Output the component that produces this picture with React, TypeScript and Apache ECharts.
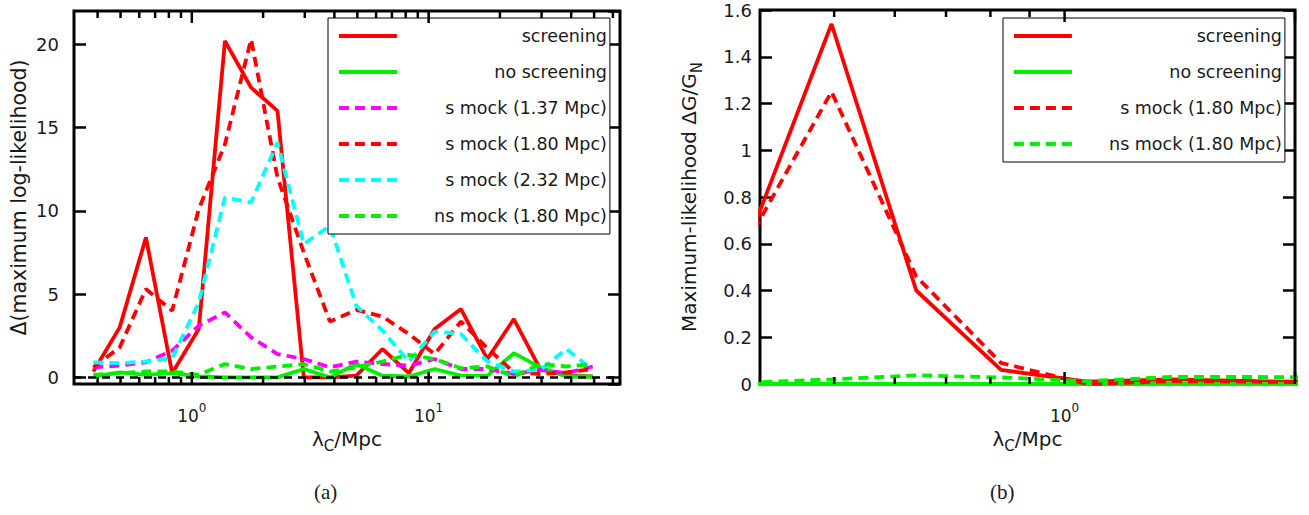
import React, { useEffect, useRef } from 'react';
import * as echarts from 'echarts';

// λ_C grid (Mpc)
const lambdaA = [0.384, 0.496, 0.64, 0.826, 1.07, 1.38, 1.78, 2.3, 2.97, 3.83, 4.95, 6.39, 8.25, 10.6, 13.7, 17.7, 22.9, 29.6, 38.2, 49.3];
// panel (a): Δ(maximum log-likelihood)
const screeningA = [0.35, 3.0, 8.4, 0.25, 2.9, 20.2, 17.4, 16.0, 0.0, 0.0, 0.1, 1.7, 0.25, 2.9, 4.1, 1.1, 3.5, 0.5, 0.1, 0.05];
const noScreeningA = [0.05, 0.3, 0.15, 0.25, 0.05, 0.0, 0.0, 0.0, 0.5, 0.0, 0.8, 0.1, 0.05, 0.5, 0.1, 0.1, 1.45, 0.6, 0.05, 0.05];
const sMock137A = [0.6, 0.7, 0.9, 1.6, 3.1, 3.9, 2.4, 1.4, 1.1, 0.6, 0.95, 0.8, 0.7, 1.1, 0.5, 0.5, 0.2, 0.45, 0.25, 0.65];
const sMock180A = [0.6, 1.8, 5.3, 4.0, 10.1, 14.0, 20.3, 12.0, 7.5, 3.35, 4.05, 3.65, 2.6, 1.4, 3.35, 1.75, 0.3, 0.2, 0.3, 0.5];
const sMock232A = [0.9, 0.85, 0.95, 1.15, 4.5, 10.8, 10.5, 14.1, 8.0, 9.1, 4.3, 2.8, 0.95, 2.75, 2.6, 0.95, 0.35, 0.45, 1.7, 0.45];
const nsMock180A = [0.15, 0.25, 0.35, 0.35, 0.15, 0.8, 0.5, 0.65, 0.8, 0.35, 0.6, 0.95, 1.35, 1.1, 0.55, 0.65, 0.05, 0.8, 0.65, 0.8];

// panel (b): maximum-likelihood ΔG/G_N
const lambdaB = [0.384, 0.496, 0.64, 0.826, 1.07, 1.38, 1.78, 2.3];
const screeningB = [0.59, 1.54, 0.4, 0.06, 0.01, 0.02, 0.012, 0.008];
const noScreeningB = [0, 0, 0, 0, 0, 0, 0, 0];
const sMock180B = [0.6, 1.25, 0.46, 0.09, 0.0, 0.012, 0.01, 0.005];
const nsMock180B = [0.005, 0.02, 0.037, 0.028, 0.012, 0.03, 0.03, 0.028];

// axis ticks
const minorTicksA = [0.4, 0.5, 0.6, 0.7, 0.8, 0.9, 2, 3, 4, 5, 6, 7, 8, 9, 20, 30, 40, 50, 60];
const majorTicksA = [1, 10];
const minorTicksB = [0.5, 0.6, 0.7, 0.8, 0.9];
const majorTicksB = [1, 2];

const legendA = ['screening', 'no screening', 's mock (1.37 Mpc)', 's mock (1.80 Mpc)', 's mock (2.32 Mpc)', 'ns mock (1.80 Mpc)'];
const legendB = ['screening', 'no screening', 's mock (1.80 Mpc)', 'ns mock (1.80 Mpc)'];

const FONT = 'DejaVu Sans';
const TXT = '#1a1a1a';
const RED = '#ff0000';
const GREEN = '#00ee00';
const MAGENTA = '#ff00ff';
const CYAN = '#00ffff';
const DASH = [10, 6];
const LW = 3.8;

const zip = (xs: number[], ys: number[]) => xs.map((x, i) => [x, ys[i]]);

const lineSeries = (name: string, xs: number[], ys: number[], color: string, dashed: boolean, xi: number, yi: number, extra: any = {}) => ({
  type: 'line',
  name,
  xAxisIndex: xi,
  yAxisIndex: yi,
  data: zip(xs, ys),
  symbol: 'none',
  showSymbol: false,
  lineStyle: { color, width: LW, type: dashed ? DASH : 'solid' },
  itemStyle: { color },
  color,
  z: 3,
  ...extra,
});

const tickSeries = (xi: number, yi: number, minor: number[], major: number[]) => ({
  type: 'custom',
  xAxisIndex: xi,
  yAxisIndex: yi,
  silent: true,
  clip: false,
  z: 6,
  data: [...minor.map((v) => [v, 0]), ...major.map((v) => [v, 1])],
  encode: { x: 0, y: 1 },
  renderItem: (params: any, api: any) => {
    const cs = params.coordSys;
    const x = api.coord([api.value(0), api.value(1)])[0];
    const len = api.value(1) ? 12 : 7;
    const bottom = cs.y + cs.height;
    const st = { stroke: '#000', lineWidth: 2.5 };
    return {
      type: 'group',
      children: [
        { type: 'line', shape: { x1: x, y1: bottom, x2: x, y2: bottom - len }, style: st },
        { type: 'line', shape: { x1: x, y1: cs.y, x2: x, y2: cs.y + len }, style: st },
      ],
    };
  },
});

const supRich = {
  b: { fontSize: 17, fontFamily: FONT, color: TXT, lineHeight: 22, verticalAlign: 'bottom' },
  s: { fontSize: 12, fontFamily: FONT, color: TXT, lineHeight: 22, verticalAlign: 'top' },
};
const subRich = {
  a: { fontSize: 20, fontFamily: FONT, color: TXT, lineHeight: 25, verticalAlign: 'top' },
  c: { fontSize: 15, fontFamily: FONT, color: TXT, lineHeight: 25, verticalAlign: 'bottom' },
};

const xAxisCommon = {
  type: 'log',
  logBase: 10,
  axisLine: { show: false },
  axisTick: { show: false },
  splitLine: { show: false },
  minorTick: { show: false },
  nameLocation: 'middle',
  nameGap: 44,
  nameTextStyle: { rich: subRich },
  name: '{a|λ}{c|C}{a|/Mpc}',
  axisLabel: {
    margin: 18,
    showMinLabel: false,
    showMaxLabel: false,
    formatter: (v: number) => '{b|10}{s|' + Math.round(Math.log10(v)) + '}',
    rich: supRich,
  },
};

const yTick = { show: true, inside: true, length: 12, lineStyle: { color: '#000', width: 2.5 } };

const legendCommon = {
  orient: 'vertical',
  top: 18,
  selectedMode: false,
  itemWidth: 58,
  itemHeight: 14,
  itemGap: 18,
  padding: [9, 3, 9, 9],
  borderColor: '#000',
  borderWidth: 1,
  backgroundColor: '#fff',
  itemStyle: { opacity: 0 },
  lineStyle: { width: LW },
  formatter: (n: string) => '{r|' + n + '}',
  textStyle: {
    color: TXT,
    rich: { r: { width: 205, align: 'right', fontSize: 17.5, fontFamily: FONT, color: TXT } },
  },
};

const option: any = {
  animation: false,
  backgroundColor: '#fff',
  textStyle: { fontFamily: FONT },
  grid: [
    { left: 74, top: 11, width: 546, height: 373, show: true, borderColor: '#000', borderWidth: 3, backgroundColor: 'transparent' },
    { left: 760, top: 10, width: 535, height: 374, show: true, borderColor: '#000', borderWidth: 3, backgroundColor: 'transparent' },
  ],
  xAxis: [
    { ...xAxisCommon, gridIndex: 0, min: 0.318, max: 64.3 },
    { ...xAxisCommon, gridIndex: 1, min: 0.4, max: 2.0 },
  ],
  yAxis: [
    {
      type: 'value', gridIndex: 0, position: 'left', min: -0.4, max: 22, splitNumber: 5,
      axisLine: { show: false }, splitLine: { show: false }, axisTick: yTick,
      axisLabel: { margin: 15, fontSize: 18, color: TXT, fontFamily: FONT, showMinLabel: false, showMaxLabel: false },
      name: 'Δ(maximum log-likelihood)', nameLocation: 'middle', nameGap: 45, nameRotate: 90,
      nameTextStyle: { fontSize: 20.5, color: TXT, fontFamily: FONT },
    },
    {
      type: 'value', gridIndex: 0, position: 'right', min: -0.4, max: 22, splitNumber: 5,
      axisLine: { show: false }, splitLine: { show: false }, axisTick: yTick, axisLabel: { show: false },
    },
    {
      type: 'value', gridIndex: 1, position: 'left', min: 0, max: 1.6, interval: 0.2,
      axisLine: { show: false }, splitLine: { show: false }, axisTick: yTick,
      axisLabel: { margin: 8, fontSize: 18, color: TXT, fontFamily: FONT },
      name: '{a|Maximum-likelihood ΔG/G}{c|N}', nameLocation: 'middle', nameGap: 56, nameRotate: 90,
      nameTextStyle: { rich: subRich },
    },
    {
      type: 'value', gridIndex: 1, position: 'right', min: 0, max: 1.6, interval: 0.2,
      axisLine: { show: false }, splitLine: { show: false }, axisTick: yTick, axisLabel: { show: false },
    },
  ],
  legend: [
    { ...legendCommon, left: 328, data: legendA },
    { ...legendCommon, left: 1003, data: legendB },
  ],
  graphic: [
    { type: 'text', left: 314, top: 481, style: { text: '(a)', fontSize: 21, fontFamily: 'Liberation Serif', fill: TXT } },
    { type: 'text', left: 990, top: 481, style: { text: '(b)', fontSize: 21, fontFamily: 'Liberation Serif', fill: TXT } },
  ],
  series: [
    lineSeries('screening', lambdaA, screeningA, RED, false, 0, 0),
    lineSeries('no screening', lambdaA, noScreeningA, GREEN, false, 0, 0),
    lineSeries('s mock (1.37 Mpc)', lambdaA, sMock137A, MAGENTA, true, 0, 0),
    lineSeries('s mock (1.80 Mpc)', lambdaA, sMock180A, RED, true, 0, 0),
    lineSeries('s mock (2.32 Mpc)', lambdaA, sMock232A, CYAN, true, 0, 0),
    lineSeries('ns mock (1.80 Mpc)', lambdaA, nsMock180A, GREEN, true, 0, 0, {
      markLine: {
        silent: true,
        symbol: 'none',
        label: { show: false },
        lineStyle: { color: '#000', type: [8, 6], width: 2.5 },
        data: [{ yAxis: 0 }],
        z: 5,
      },
    }),
    lineSeries('screening', lambdaB, screeningB, RED, false, 1, 2),
    lineSeries('no screening', lambdaB, noScreeningB, GREEN, false, 1, 2),
    lineSeries('s mock (1.80 Mpc)', lambdaB, sMock180B, RED, true, 1, 2),
    lineSeries('ns mock (1.80 Mpc)', lambdaB, nsMock180B, GREEN, true, 1, 2),
    tickSeries(0, 0, minorTicksA, majorTicksA),
    tickSeries(1, 2, minorTicksB, majorTicksB),
  ],
};

export default function App() {
  const ref = useRef<HTMLDivElement>(null);
  useEffect(() => {
    const chart = echarts.init(ref.current!, null, { renderer: 'svg' });
    chart.setOption(option);
    return () => chart.dispose();
  }, []);
  return <div ref={ref} style={{ position: 'absolute', left: 0, top: 0, width: 1309, height: 515 }} />;
}
